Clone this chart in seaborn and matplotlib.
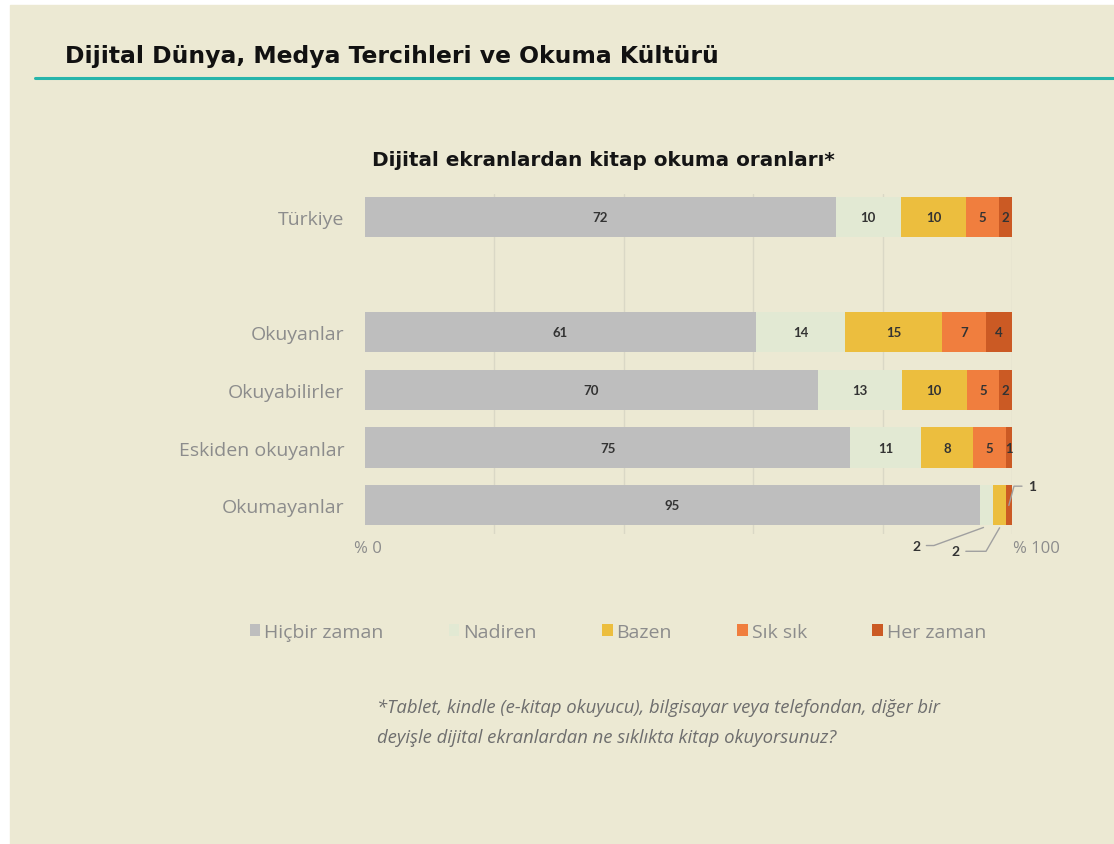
import numpy as np
import pandas as pd
import matplotlib
matplotlib.use("Agg")
import matplotlib.pyplot as plt
import matplotlib.patches as mpatches
import seaborn as sns

# ---- data ----
groups = ["Türkiye", "Okuyanlar", "Okuyabilirler", "Eskiden okuyanlar", "Okumayanlar"]
series_names = ["Hiçbir zaman", "Nadiren", "Bazen", "Sık sık", "Her zaman"]
hicbir = [72, 61, 70, 75, 95]
nadiren = [10, 14, 13, 11, 2]
bazen = [10, 15, 10, 8, 2]
siksik = [5, 7, 5, 5, 0]
herzaman = [2, 4, 2, 1, 1]
x_tick_labels = ["% 0", "% 100"]

title = "Dijital Dünya, Medya Tercihleri ve Okuma Kültürü"
subtitle = "Dijital ekranlardan kitap okuma oranları*"
footnote = ("*Tablet, kindle (e-kitap okuyucu), bilgisayar veya telefondan, diğer bir\n"
            "deyişle dijital ekranlardan ne sıklıkta kitap okuyorsunuz?")

colors = ["#BEBEBE", "#E2E9D3", "#ECBE3E", "#F07E3E", "#CB5A24"]
bg = "#ECE9D3"

sns.set_theme(style="white")
plt.rcParams["font.family"] = ["Open Sans", "DejaVu Sans"]

fig = plt.figure(figsize=(11.14, 8.45), dpi=100, facecolor="white")
fig.patches.append(mpatches.Rectangle((10 / 1114, 0), 1, 1 - 6 / 845,
                                      transform=fig.transFigure, color=bg, zorder=-10))

# header
fig.text(65 / 1114, 1 - 56 / 845, title, fontsize=16.9, fontweight="bold",
         family=["DejaVu Sans"], color="#111111", va="center", ha="left")
fig.add_artist(plt.Line2D([35 / 1114, 1], [1 - 79 / 845, 1 - 79 / 845],
                          transform=fig.transFigure, color="#27B5AB", lw=2.2))
fig.text(603 / 1114, 1 - 160 / 845, subtitle, fontsize=14.4, fontweight="bold",
         family=["DejaVu Sans"], color="#151515", va="center", ha="center")

# axes
ax_left, ax_right = 365 / 1114, 1012 / 1114
ax_top, ax_bot = 1 - 195 / 845, 1 - 535 / 845
ax = fig.add_axes([ax_left, ax_bot, ax_right - ax_left, ax_top - ax_bot])
ax.set_facecolor("none")

positions = [0, 2, 3, 4, 5]
data = np.array([hicbir, nadiren, bazen, siksik, herzaman], dtype=float)
totals = data.sum(axis=0)
norm = data / totals * 100
cum = np.cumsum(norm, axis=0)

for i in reversed(range(len(series_names))):
    df = pd.DataFrame({"val": cum[i], "pos": positions})
    sns.barplot(data=df, x="val", y="pos", orient="y", native_scale=True,
                color=colors[i], width=0.7, linewidth=0, saturation=1,
                ax=ax, zorder=3)

# segment labels
for j, p in enumerate(positions):
    for i in range(len(series_names)):
        v = data[i, j]
        if v <= 0:
            continue
        if groups[j] == "Okumayanlar" and i > 0:
            continue
        left = cum[i, j] - norm[i, j]
        ax.text(left + norm[i, j] / 2, p, f"{int(v)}", ha="center", va="center",
                fontsize=9.5, fontweight="bold", color="#333333", zorder=5,
                family=["Lato", "DejaVu Sans"])

# outside annotations for Okumayanlar
jo = groups.index("Okumayanlar")
po = positions[jo]
mid = lambda i: cum[i, jo] - norm[i, jo] / 2
ann_kw = dict(fontsize=10, fontweight="bold", color="#333333",
              family=["Lato", "DejaVu Sans"], va="center", zorder=6)
line_kw = dict(arrowstyle="-", color="#A0A0A0", lw=1)
ax.annotate(f"{int(nadiren[jo])}", xy=(mid(1), po + 0.37), xytext=(85.2, 5.7),
            ha="center", arrowprops=dict(**line_kw, connectionstyle="angle,angleA=0,angleB=20,rad=0"),
            annotation_clip=False, **ann_kw)
ax.annotate(f"{int(bazen[jo])}", xy=(mid(2) + 0.3, po + 0.35), xytext=(91.3, 5.8),
            ha="center", arrowprops=dict(**line_kw, connectionstyle="angle,angleA=0,angleB=60,rad=0"),
            annotation_clip=False, **ann_kw)
ax.annotate(f"{int(herzaman[jo])}", xy=(cum[4, jo] - 0.6, po + 0.05), xytext=(103.1, po - 0.33),
            ha="center", arrowprops=dict(**line_kw, connectionstyle="angle,angleA=0,angleB=75,rad=0"),
            annotation_clip=False, **ann_kw)

ax.set_xlim(0, 100)
ax.set_ylim(5.5, -0.4)
ax.set_xticks([20, 40, 60, 80, 100])
ax.set_xticklabels([])
ax.grid(axis="x", color="#DAD8C6", lw=1, zorder=0)
ax.set_axisbelow(True)
ax.tick_params(axis="x", length=0)
ax.set_yticks(positions)
ax.set_yticklabels(groups, fontsize=14, color="#8C8C8C")
ax.tick_params(axis="y", length=0, pad=15)
ax.set_yticks([-0.35, 0.5, 1.5, 2.5, 3.5, 4.5, 5.5], minor=True)
ax.tick_params(axis="y", which="minor", length=4, color="#D8D6C4", width=1)
for s in ax.spines.values():
    s.set_visible(False)
ax.set_xlabel("")
ax.set_ylabel("")

ax.text(0.5, 5.75, x_tick_labels[0], ha="center", va="center", fontsize=12,
        color="#8C8C8C", clip_on=False)
ax.text(100.2, 5.75, x_tick_labels[1], ha="left", va="center", fontsize=12,
        color="#8C8C8C", clip_on=False)

# legend
handles = [mpatches.Patch(facecolor=c, edgecolor="none") for c in colors]
fig.legend(handles, series_names, loc="center left", bbox_to_anchor=(232 / 1114, 1 - 633 / 845),
           ncol=5, frameon=False, fontsize=14, handlelength=0.55, handleheight=0.55,
           handletextpad=0.2, columnspacing=3.35, labelcolor="#8C8C8C")

fig.text(377 / 1114, 1 - 723 / 845, footnote, fontsize=13.3, style="italic",
         color="#6E6E6E", ha="left", va="center", linespacing=1.85)

fig.savefig("out.png", dpi=100, facecolor="white")
